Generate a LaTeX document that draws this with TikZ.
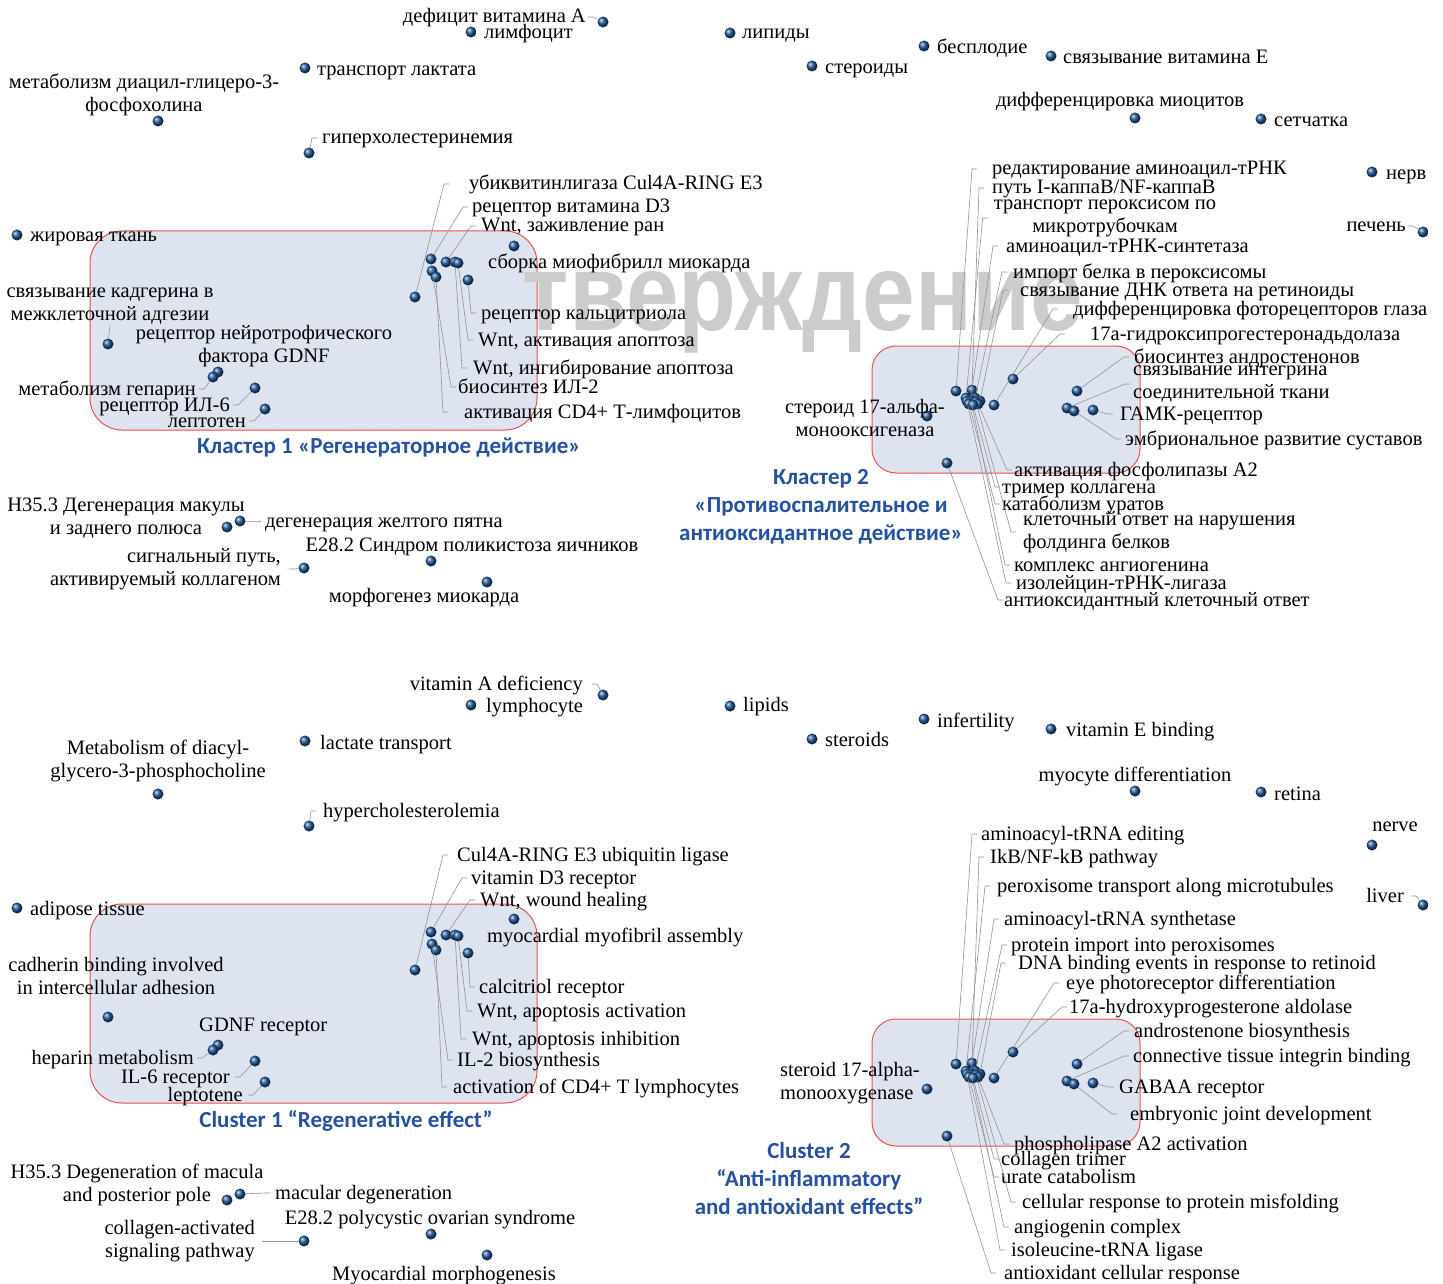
\documentclass[tikz,border=0pt]{standalone}
\usepackage{fontspec}
\usepackage{graphicx}
\setmainfont{Liberation Serif}
\newfontfamily\clusterfont{Carlito}
\newfontfamily\markfont{Liberation Sans}

\definecolor{dotblue}{RGB}{30,84,148}
\definecolor{clusterblue}{RGB}{36,82,162}
\definecolor{boxfill}{RGB}{222,227,240}
\definecolor{boxline}{RGB}{235,80,80}
\definecolor{markgrey}{RGB}{204,204,204}

% frames and term dots of one map; #1 is the name prefix
\newcommand{\mapfield}[1]{%
  \draw[clusterbox, rounded corners=32pt] (90,231) rectangle (537,430); % cluster 1
  \draw[clusterbox, rounded corners=24pt] (872,346) rectangle (1140,473); % cluster 2
  % terms outside the clusters
  \node[dot] (#1-vita) at (603,22) {};
  \node[dot] (#1-lymph) at (471,32) {};
  \node[dot] (#1-lipid) at (730,33) {};
  \node[dot] (#1-lact) at (305,68) {};
  \node[dot] (#1-ster) at (812,66) {};
  \node[dot] (#1-infert) at (924,46) {};
  \node[dot] (#1-vite) at (1051,56) {};
  \node[dot] (#1-diacyl) at (158,121) {};
  \node[dot] (#1-hyperch) at (309,153) {};
  \node[dot] (#1-myocyte) at (1135,118) {};
  \node[dot] (#1-retina) at (1261,119) {};
  \node[dot] (#1-nerve) at (1372,172) {};
  \node[dot] (#1-liver) at (1423,232) {};
  \node[dot] (#1-adipose) at (17,235) {};
  \node[dot] (#1-cadh) at (108,344) {};
  \node[dot] (#1-gdnf) at (218,372) {};
  \node[dot] (#1-hepar) at (213,377) {};
  \node[dot] (#1-il6) at (255,388) {};
  \node[dot] (#1-lepto) at (265,409) {};
  \node[dot] (#1-h35) at (227,527) {};
  \node[dot] (#1-macdeg) at (240,521) {};
  \node[dot] (#1-collag) at (304,568) {};
  \node[dot] (#1-pcos) at (431,561) {};
  \node[dot] (#1-morph) at (487,582) {};
  % cluster 1
  \node[dot] (#1-myofib) at (514,246) {};
  \node[dot] (#1-vd3) at (431,259) {};
  \node[dot] (#1-wound) at (446,262) {};
  \node[dot] (#1-wntinh) at (455,262) {};
  \node[dot] (#1-wntact) at (458,263) {};
  \node[dot] (#1-il2) at (432,271) {};
  \node[dot] (#1-cd4) at (436,277) {};
  \node[dot] (#1-calc) at (468,280) {};
  \node[dot] (#1-cul) at (415,297) {};
  % cluster 2
  \node[dot] (#1-edit) at (956,391) {};
  \node[dot] (#1-path) at (972,390) {};
  \node[dot] (#1-transp) at (966,398) {};
  \node[dot] (#1-import) at (975,398) {};
  \node[dot] (#1-angio) at (971,400) {};
  \node[dot] (#1-ile) at (967,401) {};
  \node[dot] (#1-dna) at (980,401) {};
  \node[dot] (#1-synth) at (970,402) {};
  \node[dot] (#1-misfold) at (976,402) {};
  \node[dot] (#1-urate) at (969,404) {};
  \node[dot] (#1-phosph) at (978,404) {};
  \node[dot] (#1-trimer) at (973,405) {};
  \node[dot] (#1-eye) at (994,405) {};
  \node[dot] (#1-hydroxy) at (1013,379) {};
  \node[dot] (#1-andro) at (1077,391) {};
  \node[dot] (#1-integ) at (1067,408) {};
  \node[dot] (#1-joint) at (1074,411) {};
  \node[dot] (#1-gaba) at (1093,410) {};
  \node[dot] (#1-ster17) at (927,416) {};
  \node[dot] (#1-antiox) at (947,463) {};
}

\begin{document}
\begin{tikzpicture}[
    x=1pt, y=-1pt, % one unit = one pixel of the figure, y grows down
    dot/.style={circle, inner sep=0pt, minimum size=11pt, shading=ball, ball color=dotblue},
    lbl/.style={inner sep=1pt, font=\fontsize{20.5}{23}\selectfont, text height=14pt, text depth=2pt},
    lbltwo/.style={inner sep=1pt, font=\fontsize{20.5}{23}\selectfont, align=center},
    leader/.style={draw=gray!85, line width=0.6pt},
    clusterbox/.style={draw=boxline, fill=boxfill, line width=1pt},
    clusterlbl/.style={text=clusterblue, font=\clusterfont\bfseries\fontsize{23}{28}\selectfont, align=center},
]
\useasboundingbox (0,0) rectangle (1443,1284);
\fill[white] (0,0) rectangle (1443,1284);

\mapfield{ru}
\begin{scope}[yshift=-673pt]
  \mapfield{en}
\end{scope}

% watermark left on the page
\node[text=markgrey, inner sep=0pt, anchor=base] (mark) at (803,330)
    {\scalebox{0.86}[1]{\markfont\bfseries\fontsize{110}{110}\selectfont тверждение}};

%%% Russian map
\node[lbl, anchor=east] (ru-vita-l) at (587,17) {дефицит витамина А};
\node[lbl, anchor=west] (ru-lymph-l) at (483,33) {лимфоцит};
\node[lbl, anchor=west] (ru-lipid-l) at (741,33) {липиды};
\node[lbl, anchor=west] (ru-lact-l) at (316,70) {транспорт лактата};
\node[lbl, anchor=west] (ru-ster-l) at (824,68) {стероиды};
\node[lbl, anchor=west] (ru-infert-l) at (936,48) {бесплодие};
\node[lbl, anchor=west] (ru-vite-l) at (1062,58) {связывание витамина Е};
\node[lbltwo] (ru-diacyl-l) at (144,95) {метаболизм диацил-глицеро-3-\\фосфохолина};
\node[lbl, anchor=west] (ru-hyperch-l) at (321,138) {гиперхолестеринемия};
\node[lbl] (ru-myocyte-l) at (1120,101) {дифференцировка миоцитов};
\node[lbl, anchor=west] (ru-retina-l) at (1273,121) {сетчатка};
\node[lbl, anchor=west] (ru-nerve-l) at (1385,174) {нерв};
\node[lbl, anchor=east] (ru-liver-l) at (1407,226) {печень};
\node[lbl, anchor=west] (ru-adipose-l) at (29,236) {жировая ткань};
\node[lbltwo] (ru-cadh-l) at (110,306) {связывание кадгерина в\\межклеточной адгезии};
\node[lbltwo] (ru-gdnf-l) at (264,346) {рецептор нейротрофического\\фактора GDNF};
\node[lbl, anchor=east] (ru-hepar-l) at (197,389) {метаболизм гепарин};
\node[lbl, anchor=east] (ru-il6-l) at (231,405) {рецептор ИЛ-6};
\node[lbl, anchor=east] (ru-lepto-l) at (247,421) {лептотен};
\node[lbl, anchor=west] (ru-cul-l) at (468,184) {убиквитинлигаза Cul4A-RING E3};
\node[lbl, anchor=west] (ru-vd3-l) at (471,207) {рецептор витамина D3};
\node[lbl, anchor=west] (ru-wound-l) at (480,226) {Wnt, заживление ран};
\node[lbl, anchor=west] (ru-myofib-l) at (487,263) {сборка миофибрилл миокарда};
\node[lbl, anchor=west] (ru-calc-l) at (480,313) {рецептор кальцитриола};
\node[lbl, anchor=west] (ru-wntact-l) at (477,340) {Wnt, активация апоптоза};
\node[lbl, anchor=west] (ru-wntinh-l) at (472,368) {Wnt, ингибирование апоптоза};
\node[lbl, anchor=west] (ru-il2-l) at (457,387) {биосинтез ИЛ-2};
\node[lbl, anchor=west] (ru-cd4-l) at (463,412) {активация CD4+ Т-лимфоцитов};
\node[lbltwo] (ru-h35-l) at (126,518) {H35.3 Дегенерация макулы\\и заднего полюса};
\node[lbl, anchor=west] (ru-macdeg-l) at (264,521) {дегенерация желтого пятна};
\node[lbltwo, align=right, anchor=east] (ru-collag-l) at (282,569) {сигнальный путь,\\активируемый коллагеном};
\node[lbl] (ru-pcos-l) at (472,545) {E28.2 Синдром поликистоза яичников};
\node[lbl] (ru-morph-l) at (424,596) {морфогенез миокарда};
\node[lbl, anchor=west] (ru-edit-l) at (991,169) {редактирование аминоацил-тРНК};
\node[lbl, anchor=west] (ru-path-l) at (991,188) {путь I-каппаB/NF-каппаB};
\node[lbltwo] (ru-transp-l) at (1105,218) {транспорт пероксисом по\\микротрубочкам};
\node[lbl, anchor=west] (ru-synth-l) at (1005,246) {аминоацил-тРНК-синтетаза};
\node[lbl, anchor=west] (ru-import-l) at (1012,272) {импорт белка в пероксисомы};
\node[lbl, anchor=west] (ru-dna-l) at (1019,290) {связывание ДНК ответа на ретиноиды};
\node[lbl, anchor=west] (ru-eye-l) at (1072,309) {дифференцировка фоторецепторов глаза};
\node[lbl, anchor=west] (ru-hydroxy-l) at (1089,334) {17а-гидроксипрогестеронадьдолаза};
\node[lbl, anchor=west] (ru-andro-l) at (1133,357) {биосинтез андростенонов};
\node[lbltwo, align=left, anchor=west] (ru-integ-l) at (1132,384) {связывание интегрина\\соединительной ткани};
\node[lbl, anchor=west] (ru-gaba-l) at (1119,414) {ГАМК-рецептор};
\node[lbl, anchor=west] (ru-joint-l) at (1124,439) {эмбриональное развитие суставов};
\node[lbltwo] (ru-ster17-l) at (865,418) {стероид 17-альфа-\\монооксигеназа};
\node[lbl, anchor=west] (ru-phosph-l) at (1013,470) {активация фосфолипазы А2};
\node[lbl, anchor=west] (ru-trimer-l) at (1001,487) {тример коллагена};
\node[lbl, anchor=west] (ru-urate-l) at (1001,504) {катаболизм уратов};
\node[lbltwo, align=left, anchor=west] (ru-misfold-l) at (1022,532) {клеточный ответ на нарушения\\фолдинга белков};
\node[lbl, anchor=west] (ru-angio-l) at (1013,565) {комплекс ангиогенина};
\node[lbl, anchor=west] (ru-ile-l) at (1015,583) {изолейцин-тРНК-лигаза};
\node[lbl, anchor=west] (ru-antiox-l) at (1003,600) {антиоксидантный клеточный ответ};

\node[clusterlbl] (ru-c1) at (389,448) {Кластер 1 «Регенераторное действие»};
\node[clusterlbl] (ru-c2) at (821,507) {Кластер 2\\«Противоспалительное и\\антиоксидантное действие»};

%%% English map
\node[lbl, anchor=east] (en-vita-l) at (584,684) {vitamin A deficiency};
\node[lbl, anchor=west] (en-lymph-l) at (485,706) {lymphocyte};
\node[lbl, anchor=west] (en-lipid-l) at (742,705) {lipids};
\node[lbl, anchor=west] (en-lact-l) at (319,743) {lactate transport};
\node[lbl, anchor=west] (en-ster-l) at (824,740) {steroids};
\node[lbl, anchor=west] (en-infert-l) at (936,721) {infertility};
\node[lbl, anchor=west] (en-vite-l) at (1065,730) {vitamin E binding};
\node[lbltwo] (en-diacyl-l) at (158,761) {Metabolism of diacyl-\\glycero-3-phosphocholine};
\node[lbl, anchor=west] (en-hyperch-l) at (322,811) {hypercholesterolemia};
\node[lbl] (en-myocyte-l) at (1135,775) {myocyte differentiation};
\node[lbl, anchor=west] (en-retina-l) at (1273,794) {retina};
\node[lbl] (en-nerve-l) at (1395,825) {nerve};
\node[lbl, anchor=east] (en-liver-l) at (1405,896) {liver};
\node[lbl, anchor=west] (en-adipose-l) at (29,909) {adipose tissue};
\node[lbltwo] (en-cadh-l) at (116,976) {cadherin binding involved\\in intercellular adhesion};
\node[lbl, anchor=west] (en-gdnf-l) at (198,1025) {GDNF receptor};
\node[lbl, anchor=east] (en-hepar-l) at (195,1058) {heparin metabolism};
\node[lbl, anchor=east] (en-il6-l) at (231,1077) {IL-6 receptor};
\node[lbl, anchor=east] (en-lepto-l) at (244,1095) {leptotene};
\node[lbl, anchor=west] (en-cul-l) at (456,855) {Cul4A-RING E3 ubiquitin ligase};
\node[lbl, anchor=west] (en-vd3-l) at (470,878) {vitamin D3 receptor};
\node[lbl, anchor=west] (en-wound-l) at (479,900) {Wnt, wound healing};
\node[lbl, anchor=west] (en-myofib-l) at (486,936) {myocardial myofibril assembly};
\node[lbl, anchor=west] (en-calc-l) at (478,987) {calcitriol receptor};
\node[lbl, anchor=west] (en-wntact-l) at (476,1011) {Wnt, apoptosis activation};
\node[lbl, anchor=west] (en-wntinh-l) at (471,1039) {Wnt, apoptosis inhibition};
\node[lbl, anchor=west] (en-il2-l) at (456,1060) {IL-2 biosynthesis};
\node[lbl, anchor=west] (en-cd4-l) at (452,1087) {activation of CD4+ T lymphocytes};
\node[lbltwo] (en-h35-l) at (137,1185) {H35.3 Degeneration of macula\\and posterior pole};
\node[lbl, anchor=west] (en-macdeg-l) at (274,1193) {macular degeneration};
\node[lbltwo, align=right, anchor=east] (en-collag-l) at (256,1241) {collagen-activated\\signaling pathway};
\node[lbl] (en-pcos-l) at (430,1218) {E28.2 polycystic ovarian syndrome};
\node[lbl] (en-morph-l) at (444,1274) {Myocardial morphogenesis};
\node[lbl, anchor=west] (en-edit-l) at (980,834) {aminoacyl-tRNA editing};
\node[lbl, anchor=west] (en-path-l) at (989,857) {IkB/NF-kB pathway};
\node[lbl, anchor=west] (en-transp-l) at (996,886) {peroxisome transport along microtubules};
\node[lbl, anchor=west] (en-synth-l) at (1003,919) {aminoacyl-tRNA synthetase};
\node[lbl, anchor=west] (en-import-l) at (1010,945) {protein import into peroxisomes};
\node[lbl, anchor=west] (en-dna-l) at (1017,963) {DNA binding events in response to retinoid};
\node[lbl, anchor=west] (en-eye-l) at (1065,983) {eye photoreceptor differentiation};
\node[lbl, anchor=west] (en-hydroxy-l) at (1068,1007) {17a-hydroxyprogesterone aldolase};
\node[lbl, anchor=west] (en-andro-l) at (1133,1031) {androstenone biosynthesis};
\node[lbl, anchor=west] (en-integ-l) at (1132,1056) {connective tissue integrin binding};
\node[lbl, anchor=west] (en-gaba-l) at (1118,1087) {GABAA receptor};
\node[lbl, anchor=west] (en-joint-l) at (1129,1114) {embryonic joint development};
\node[lbltwo, align=left, anchor=west] (en-ster17-l) at (779,1083) {steroid 17-alpha-\\monooxygenase};
\node[lbl, anchor=west] (en-phosph-l) at (1013,1144) {phospholipase A2 activation};
\node[lbl, anchor=west] (en-trimer-l) at (1000,1159) {collagen trimer};
\node[lbl, anchor=west] (en-urate-l) at (1000,1177) {urate catabolism};
\node[lbl, anchor=west] (en-misfold-l) at (1021,1202) {cellular response to protein misfolding};
\node[lbl, anchor=west] (en-angio-l) at (1013,1227) {angiogenin complex};
\node[lbl, anchor=west] (en-ile-l) at (1010,1250) {isoleucine-tRNA ligase};
\node[lbl, anchor=west] (en-antiox-l) at (1003,1273) {antioxidant cellular response};

\node[clusterlbl] (en-c1) at (346,1121) {Cluster 1 “Regenerative effect”};
\node[clusterlbl] (en-c2) at (809,1179) {Cluster 2\\“Anti-inflammatory\\and antioxidant effects”};

%%% leaders: dot -> bend -> short tick before the label
\foreach \n/\g in {cul/19, vd3/3, wound/4, calc/4, wntact/4, wntinh/5, il2/1, cd4/15,
    edit/14, path/7, transp/5, synth/7, import/5, dna/11, eye/14, hydroxy/24,
    andro/4, integ/2, gaba/6, joint/3, phosph/1, trimer/1, urate/1, misfold/6,
    angio/3, ile/4, antiox/0, hyperch/4, macdeg/3}
  \draw[leader] (ru-\n) -- ([xshift={-(\g+5)*1pt}]ru-\n-l.west) -- ([xshift={-\g*1pt}]ru-\n-l.west);
\foreach \n/\g in {vita/1, liver/1, hepar/2, il6/2, lepto/2, collag/7}
  \draw[leader] (ru-\n) -- ([xshift={(\g+5)*1pt}]ru-\n-l.east) -- ([xshift={\g*1pt}]ru-\n-l.east);
\draw[leader] (ru-cadh) -- (ru-cadh-l.south);

\foreach \n/\g in {cul/8, vd3/3, wound/4, calc/3, wntact/4, wntinh/5, il2/3, cd4/5,
    edit/3, path/5, transp/6, synth/4, import/3, dna/11, eye/6, hydroxy/1,
    andro/4, integ/3, gaba/4, joint/12, phosph/4, trimer/1, urate/1, misfold/5,
    angio/4, ile/5, antiox/7, hyperch/6, macdeg/4}
  \draw[leader] (en-\n) -- ([xshift={-(\g+5)*1pt}]en-\n-l.west) -- ([xshift={-\g*1pt}]en-\n-l.west);
\foreach \n/\g in {vita/8, liver/6, hepar/2, il6/4, lepto/4, collag/6}
  \draw[leader] (en-\n) -- ([xshift={(\g+5)*1pt}]en-\n-l.east) -- ([xshift={\g*1pt}]en-\n-l.east);
\end{tikzpicture}
\end{document}
